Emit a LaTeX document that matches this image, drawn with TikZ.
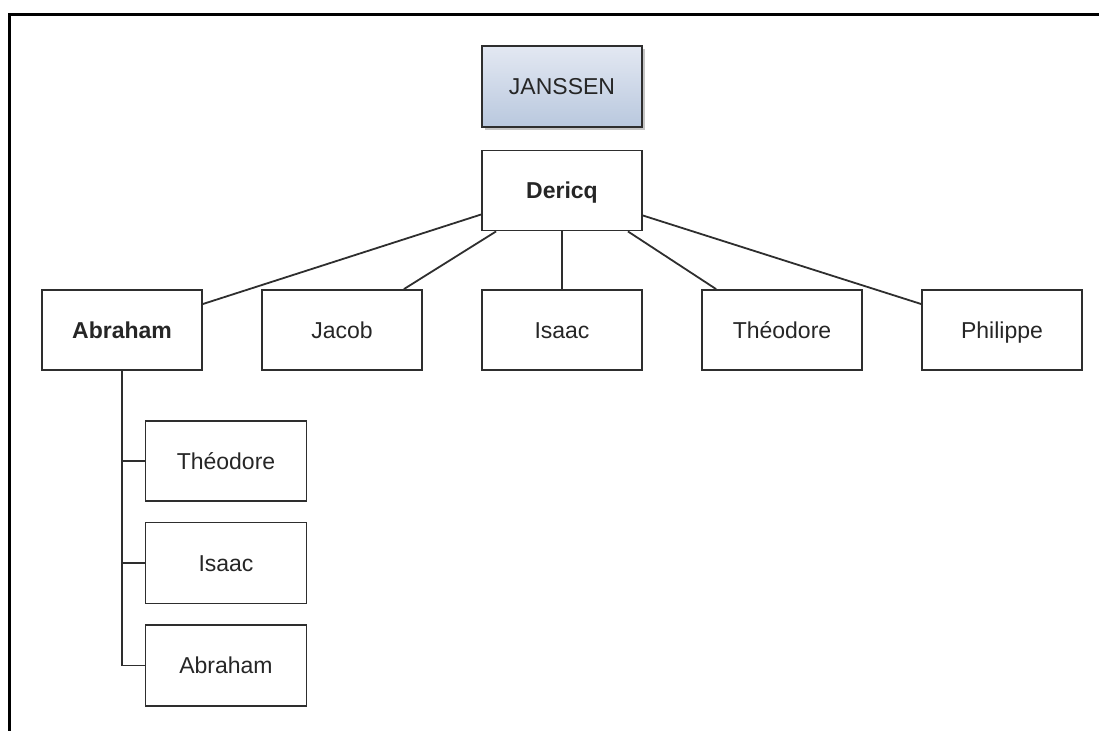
\documentclass[tikz,border=0pt]{standalone}
\usepackage{fontspec}
\setmainfont{Liberation Sans}
\usetikzlibrary{shadows,calc}
\definecolor{boxline}{HTML}{2E2E2E}
\definecolor{txt}{HTML}{262626}
\definecolor{topblue}{HTML}{E3E8F2}
\definecolor{botblue}{HTML}{B9C8DE}
\tikzset{
  person/.style={draw=boxline, line width=1.8pt, fill=white, minimum width=160pt, minimum height=80pt,
    inner sep=0pt, text=txt, text height=16.5pt, text depth=0pt, font=\fontsize{23}{27}\selectfont},
  boldperson/.style={person, font=\fontsize{23}{27}\selectfont\bfseries},
  family/.style={person, minimum height=81pt, top color=topblue, bottom color=botblue,
    drop shadow={shadow xshift=3pt, shadow yshift=-3pt, fill=black!45, opacity=0.5}},
  link/.style={draw=boxline, line width=1.8pt},
  frame/.style={draw=black, line width=3pt}
}
\begin{document}
\begin{tikzpicture}[x=1pt, y=-1pt]
\useasboundingbox (0,0) rectangle (1099,730);
\coordinate (fbl) at (9.5,731);
\coordinate (ftl) at (9.5,14.5);
\coordinate (ftr) at (1100,14.5);
\draw[frame] (fbl) -- (ftl) -- (ftr);

\node[family] (janssen) at (562,86.5) {JANSSEN};
\node[boldperson] (dericq) at (562,190.5) {Dericq};

\node[boldperson] (abraham) at (122,330) {Abraham};
\node[person] (jacob) at (342,330) {Jacob};
\node[person] (isaac) at (562,330) {Isaac};
\node[person] (theodore) at (782,330) {Théodore};
\node[person] (philippe) at (1002,330) {Philippe};

\node[person, minimum width=161pt] (ctheodore) at (226,461) {Théodore};
\node[person, minimum width=161pt, minimum height=81pt] (cisaac) at (226,563) {Isaac};
\node[person, minimum width=161pt, minimum height=81pt] (cabraham) at (226,665.5) {Abraham};

\draw[link] ([yshift=-24pt]dericq.west) -- ([yshift=26pt]abraham.east);
\draw[link] ([xshift=15pt]dericq.south west) -- ([xshift=-19pt]jacob.north east);
\draw[link] (dericq.south) -- (isaac.north);
\draw[link] ([xshift=-15pt]dericq.south east) -- ([xshift=15pt]theodore.north west);
\draw[link] ([yshift=-25pt]dericq.east) -- ([yshift=26pt]philippe.west);

\draw[link] (abraham.south) |- (cabraham.west);
\draw[link] (abraham.south |- ctheodore.west) -- (ctheodore.west);
\draw[link] (abraham.south |- cisaac.west) -- (cisaac.west);
\end{tikzpicture}
\end{document}
